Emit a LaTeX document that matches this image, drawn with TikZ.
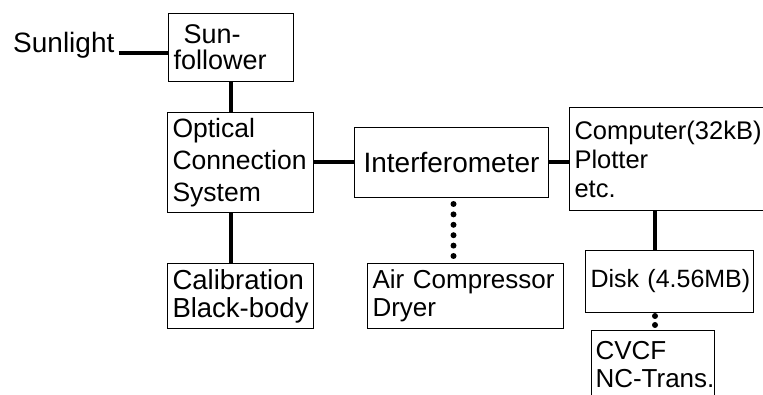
\documentclass[tikz,border=0pt]{standalone}
\usepackage{fontspec}
\setmainfont{Liberation Sans}
\usetikzlibrary{positioning, calc}

\begin{document}
\begin{tikzpicture}
   [
      x=1pt, y=-1pt,
      % Style for free text outside the boxes
      label node/.style={font=\fontsize{28}{29}\selectfont, inner xsep=4pt, inner ysep=0pt},
      % Style for a unit box: thin border, text set flush left
      unit box/.style={draw, line width=1pt, anchor=north west, align=left,
         font=\fontsize{27}{29}\selectfont, inner xsep=5pt, inner ysep=2pt},
      % Style for the heavy link between two units
      link/.style={line width=4pt},
      % Style for the dotted link (a row of round dots)
      dot link/.style={line width=6pt, line cap=round, dash pattern=on 0pt off #1},
      dot link/.default=10.4pt
   ]
    \useasboundingbox (0,0) rectangle (763,395);

    % =======================================================
    % Light path: sunlight, sunfollower, optics
    % =======================================================

    \node[unit box, text width=115pt, minimum height=68pt,
          font=\fontsize{27}{26}\selectfont] (sun) at (168,13) {\hspace{10pt}Sun-\\follower};
    \node[label node, anchor=base west] (sunlight) at (9,53) {Sunlight};
    \node[unit box, text width=136pt, minimum height=100pt,
          font=\fontsize{26.5}{32}\selectfont] (opt) at (167,112) {Optical\\Connection\\System};
    \node[unit box, text width=136pt, minimum height=65pt,
          font=\fontsize{27.5}{28}\selectfont] (cal) at (167,263) {Calibration\\\mbox{Black-body}};

    \draw[link] (sunlight.base east) -- (sunlight.base east -| sun.west);
    \draw[link] (sun.south) -- (sun.south |- opt.north);
    \draw[link] (opt.south -| sun.south) -- (cal.north -| sun.south);

    % =======================================================
    % Interferometer and its air supply
    % =======================================================

    \node[unit box, text width=184pt, minimum height=70pt, align=center,
          font=\fontsize{28}{29}\selectfont] (intf) at (354,127) {Interferometer};
    \node[unit box, text width=186pt, minimum height=65pt,
          font=\fontsize{26}{28}\selectfont] (air) at (367,263) {Air Compressor\\Dryer};

    \draw[link] (opt.east) -- (intf.west);
    \draw[dot link, dash phase=4.4pt] ($(intf.south)+(2,0)$) -- ($(air.north -| intf.south)+(2,0)$);

    % =======================================================
    % Data side: computer, disk, transfer
    % =======================================================

    \node[unit box, text width=200pt, minimum height=103pt,
          font=\fontsize{25.5}{29}\selectfont] (comp) at (569,107) {Computer(32kB)\\Plotter\\etc.};
    \node[unit box, text width=158pt, minimum height=62pt,
          font=\fontsize{25}{29}\selectfont] (disk) at (585,250) {\mbox{Disk (4.56MB)}};
    \node[unit box, text width=115pt, minimum height=68pt, inner xsep=4pt,
          font=\fontsize{26}{28}\selectfont] (cvcf) at (591,330) {CVCF\\\mbox{NC-Trans.}};

    \draw[link] (intf.east) -- (intf.east -| comp.west);
    \draw[link] ($(comp.south west)+(86,0)$) coordinate (cd) -- (cd |- disk.north);
    \draw[dot link=9pt, dash phase=6pt] (cd |- disk.south) -- (cd |- cvcf.north);

\end{tikzpicture}
\end{document}
